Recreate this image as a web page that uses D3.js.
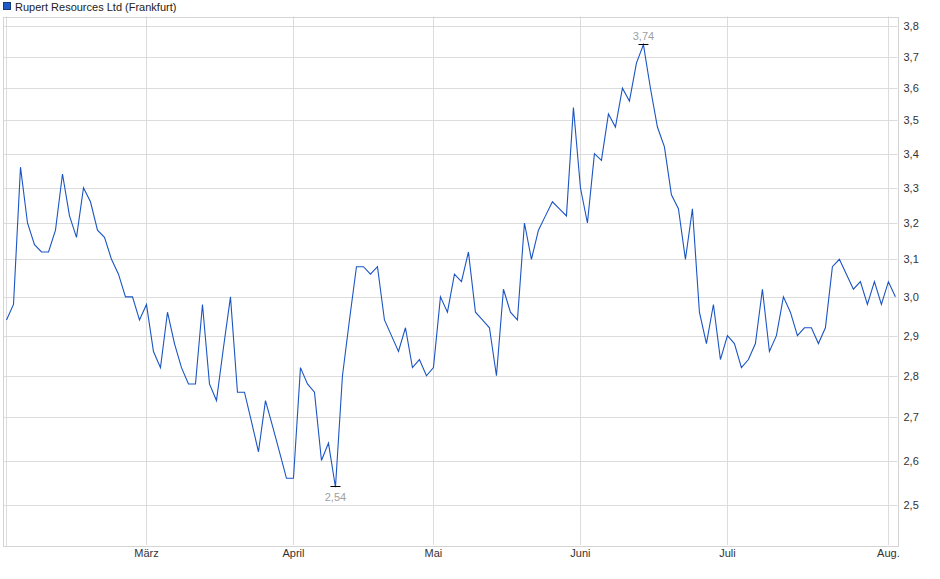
<!DOCTYPE html>
<html>
<head>
<meta charset="utf-8">
<script src="https://cdn.jsdelivr.net/npm/d3@7"></script>
<style>
  body { margin: 0; background: #fff; }
  text { font-family: "Liberation Sans", Arial, sans-serif; }
</style>
</head>
<body>
<div id="chart"></div>
<script>
// one closing price per trading day, Feb .. early Aug
const prices = [
  2.94, 2.98, 3.36, 3.20, 3.14, 3.12, 3.12, 3.18, 3.34, 3.22,
  3.16, 3.30, 3.26, 3.18, 3.16, 3.10, 3.06, 3.00, 3.00, 2.94,
  2.98, 2.86, 2.82, 2.96, 2.88, 2.82, 2.78, 2.78, 2.98, 2.78,
  2.74, 2.87, 3.00, 2.76, 2.76, 2.69, 2.62, 2.74, 2.68, 2.62,
  2.56, 2.56, 2.82, 2.78, 2.76, 2.60, 2.64, 2.54, 2.80, 2.94,
  3.08, 3.08, 3.06, 3.08, 2.94, 2.90, 2.86, 2.92, 2.82, 2.84,
  2.80, 2.82, 3.00, 2.96, 3.06, 3.04, 3.12, 2.96, 2.94, 2.92,
  2.80, 3.02, 2.96, 2.94, 3.20, 3.10, 3.18, 3.22, 3.26, 3.24,
  3.22, 3.54, 3.30, 3.20, 3.40, 3.38, 3.52, 3.48, 3.60, 3.56,
  3.68, 3.74, 3.60, 3.48, 3.42, 3.28, 3.24, 3.10, 3.24, 2.96,
  2.88, 2.98, 2.84, 2.90, 2.88, 2.82, 2.84, 2.88, 3.02, 2.86,
  2.90, 3.00, 2.96, 2.90, 2.92, 2.92, 2.88, 2.92, 3.08, 3.10,
  3.06, 3.02, 3.04, 2.98, 3.04, 2.98, 3.04, 3.00
];

// index of the first trading day of each month
const monthStarts = [0, 20, 41, 61, 82, 103, 126];
const monthLabels = ["", "März", "April", "Mai", "Juni", "Juli", "Aug."];

const yTicks = [2.5, 2.6, 2.7, 2.8, 2.9, 3.0, 3.1, 3.2, 3.3, 3.4, 3.5, 3.6, 3.7, 3.8];
const seriesName = "Rupert Resources Ltd (Frankfurt)";

const width = 940, height = 579;
const plot = { left: 3, right: 897.5, top: 16.5, bottom: 545 };

const fmt = v => d3.format(".1f")(v).replace(".", ",");
const fmt2 = v => d3.format(".2f")(v).replace(".", ",");

const svg = d3.select("#chart")
  .append("svg")
  .attr("width", width)
  .attr("height", height);

const x = d3.scaleLinear()
  .domain([-0.5, prices.length - 0.7])
  .range([plot.left, plot.right]);

const y = d3.scaleLog()
  .domain([2.415, 3.833])
  .range([plot.bottom, plot.top]);

// horizontal grid
svg.append("g")
  .selectAll("line")
  .data(yTicks)
  .join("line")
  .attr("x1", plot.left)
  .attr("x2", plot.right)
  .attr("y1", d => Math.round(y(d)) + 0.5)
  .attr("y2", d => Math.round(y(d)) + 0.5)
  .attr("stroke", "#dcdcdc");

// vertical grid at month starts
svg.append("g")
  .selectAll("line")
  .data(monthStarts)
  .join("line")
  .attr("x1", d => Math.round(x(d)) + 0.5)
  .attr("x2", d => Math.round(x(d)) + 0.5)
  .attr("y1", plot.top)
  .attr("y2", (d, i) => i === 0 ? plot.bottom + 2 : plot.bottom)
  .attr("stroke", "#dcdcdc");

// plot frame
svg.append("rect")
  .attr("x", Math.round(plot.left) + 0.5)
  .attr("y", Math.round(plot.top) + 0.5)
  .attr("width", Math.round(plot.right - plot.left))
  .attr("height", Math.round(plot.bottom - plot.top))
  .attr("fill", "none")
  .attr("stroke", "#d4d4d4");

// right axis labels
svg.append("g")
  .selectAll("text")
  .data(yTicks)
  .join("text")
  .attr("x", plot.right + 6)
  .attr("y", d => y(d) + 4)
  .attr("font-size", 11)
  .attr("fill", "#333")
  .text(fmt);

// month labels
svg.append("g")
  .selectAll("text")
  .data(monthStarts)
  .join("text")
  .attr("x", d => x(d))
  .attr("y", 557)
  .attr("text-anchor", "middle")
  .attr("font-size", 11)
  .attr("fill", "#333")
  .text((d, i) => monthLabels[i]);

// price line
const line = d3.line()
  .x((d, i) => x(i))
  .y(d => y(d));

svg.append("path")
  .datum(prices)
  .attr("d", line)
  .attr("fill", "none")
  .attr("stroke", "#1b55c3")
  .attr("stroke-width", 1.1);

// max / min markers
const iMax = d3.maxIndex(prices);
const iMin = d3.minIndex(prices);

const marker = (i, above) => {
  const px = x(i), py = Math.round(y(prices[i])) - 0.5;
  svg.append("line")
    .attr("x1", px - 5).attr("x2", px + 5)
    .attr("y1", py).attr("y2", py)
    .attr("stroke", "#000");
  svg.append("text")
    .attr("x", px)
    .attr("y", above ? py - 5 : py + 14)
    .attr("text-anchor", "middle")
    .attr("font-size", 11)
    .attr("fill", "#a0a0a0")
    .text(fmt2(prices[i]));
};
marker(iMax, true);
marker(iMin, false);

// legend
svg.append("rect")
  .attr("x", 3.5).attr("y", 2.5)
  .attr("width", 7).attr("height", 7)
  .attr("fill", "#1f5bc8")
  .attr("stroke", "#183a78");

svg.append("text")
  .attr("x", 15)
  .attr("y", 11)
  .attr("font-size", 11)
  .attr("fill", "#222")
  .text(seriesName);
</script>
</body>
</html>
